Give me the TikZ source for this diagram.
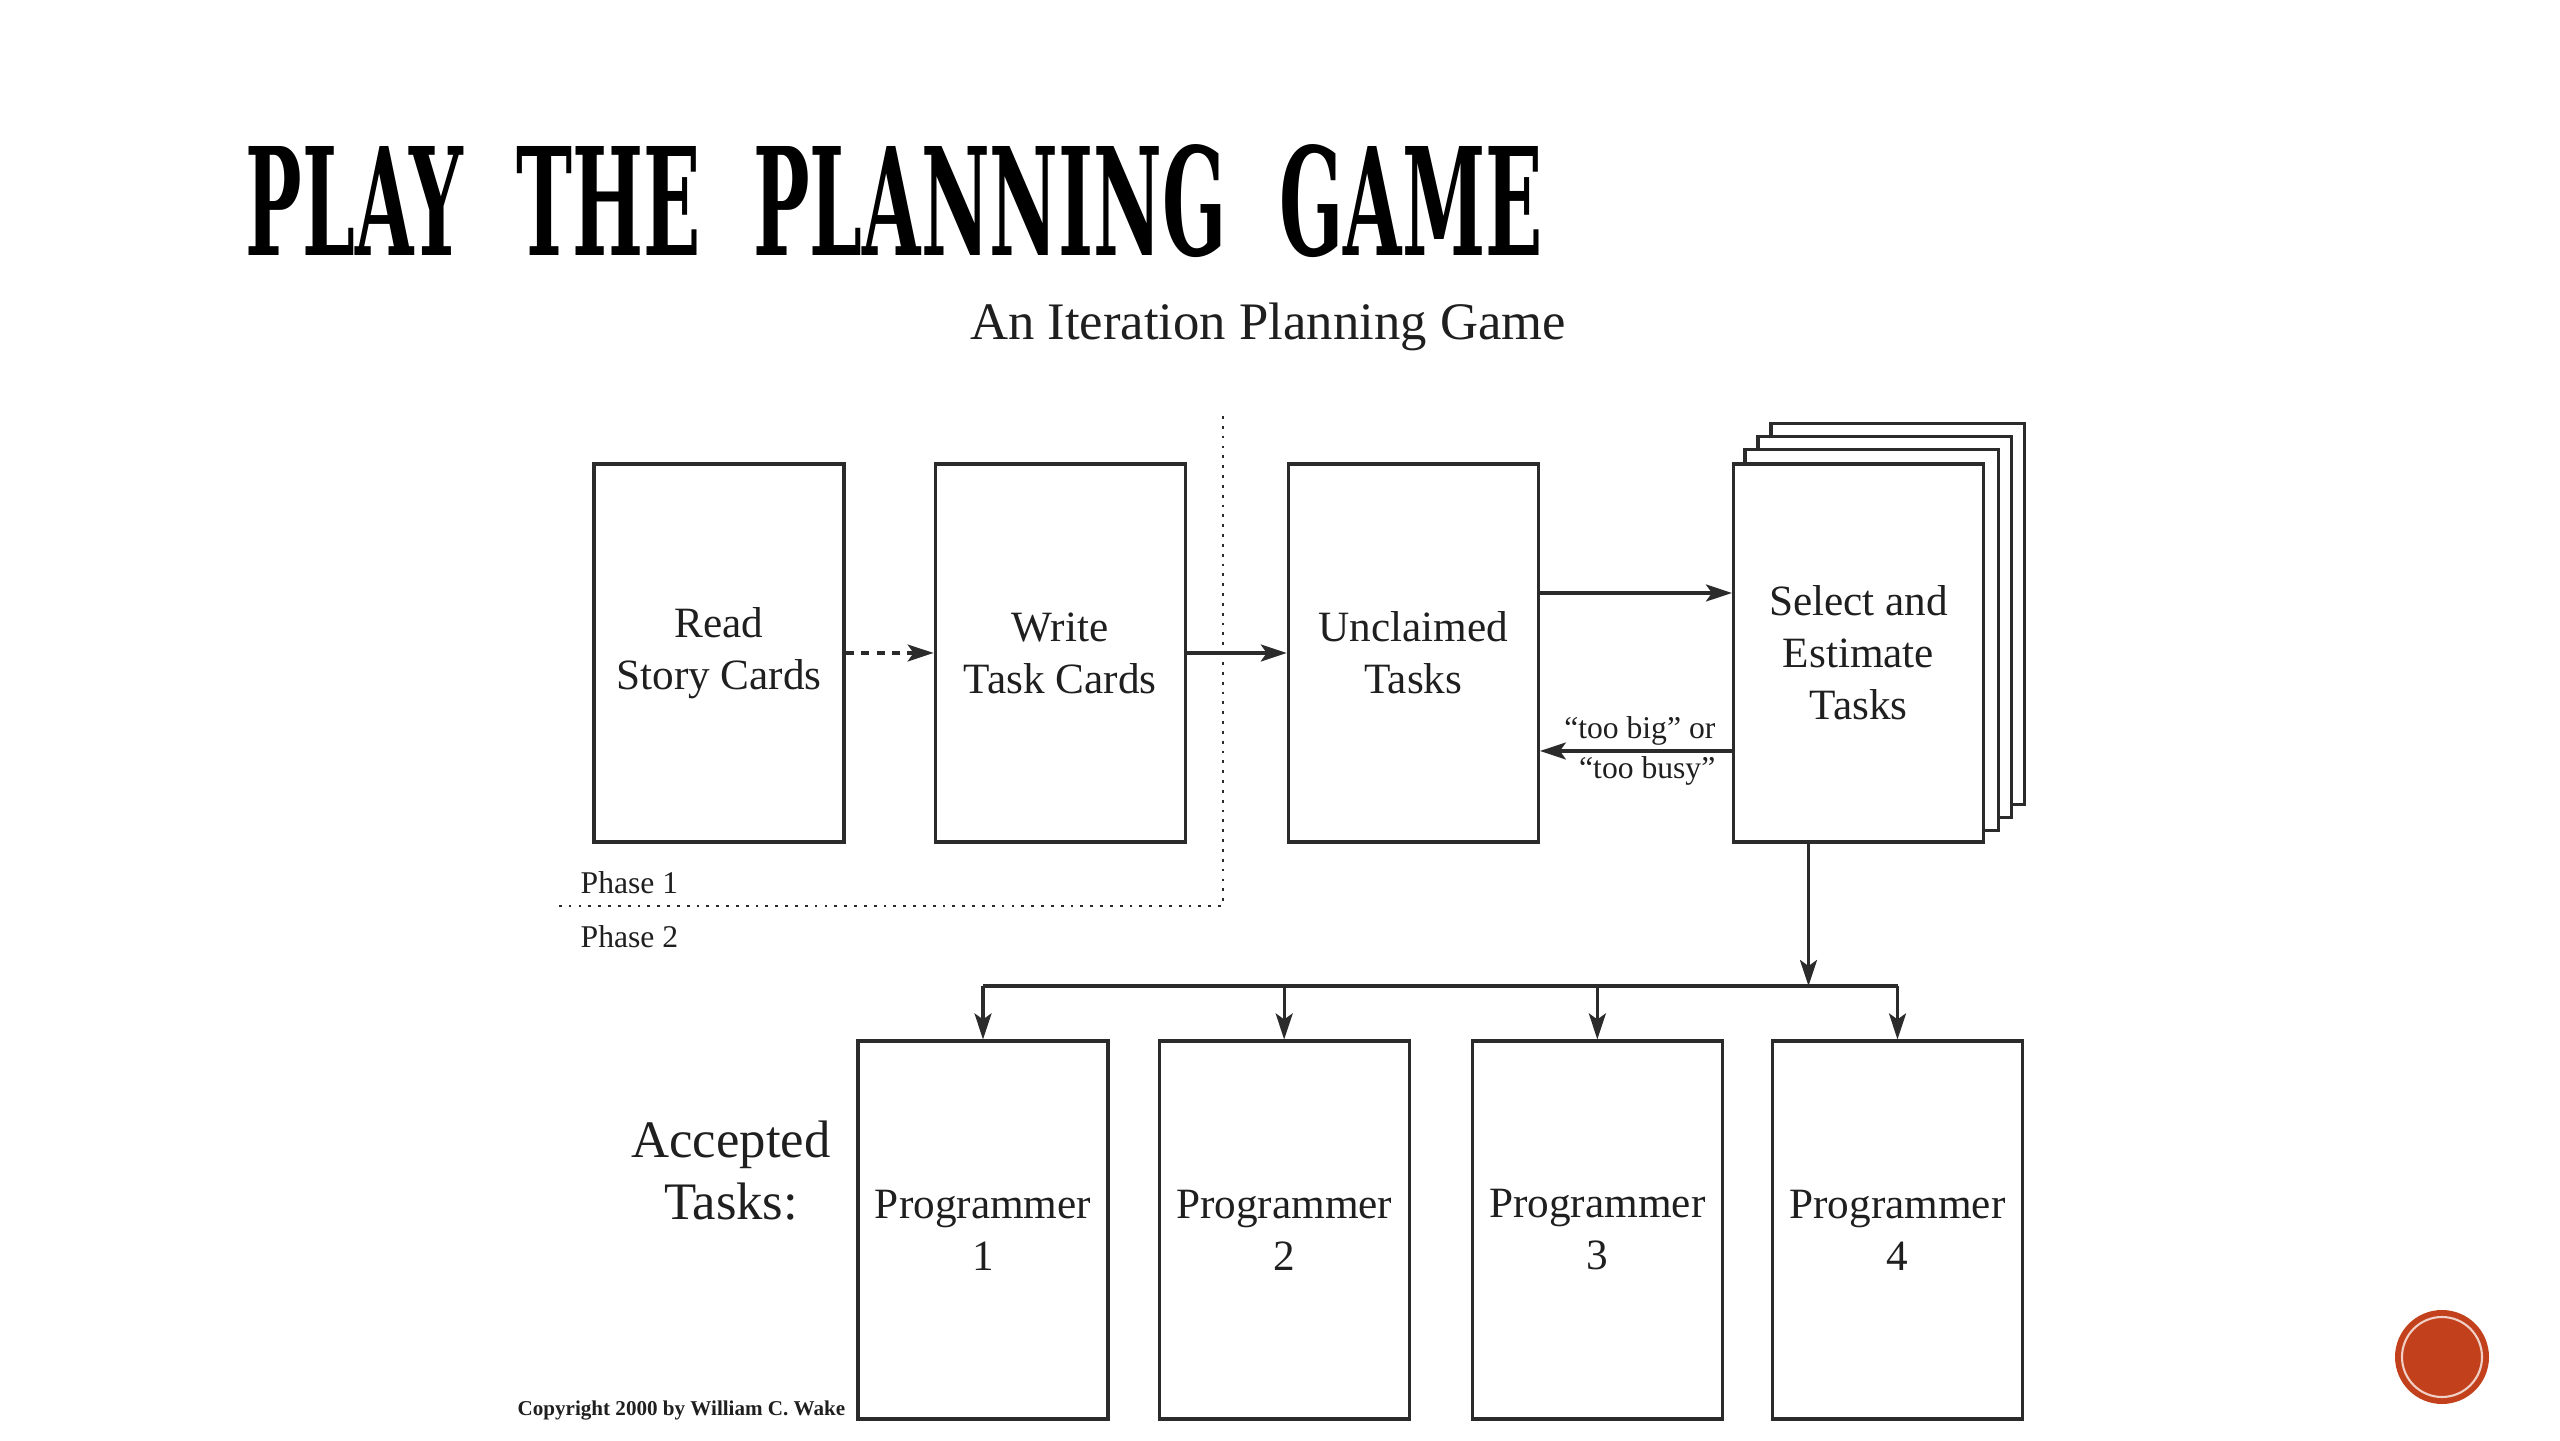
\documentclass[tikz,border=0pt]{standalone}
\usepackage{fontspec}
\setmainfont{Liberation Serif}
\newfontfamily\titlefont{DejaVu Serif}
\usepackage{graphicx}
\usepackage{xcolor}
\usetikzlibrary{positioning}
\usetikzlibrary{arrows.meta}
\usetikzlibrary{backgrounds}
\usetikzlibrary{calc}

\definecolor{linegray}{HTML}{2B2B2B}
\definecolor{badgered}{HTML}{C2411C}

\begin{document}
\begin{tikzpicture}[
card/.style={draw=linegray, line width=0.9pt, fill=white, minimum width=2.5cm, minimum height=3.78cm, inner sep=0pt, align=center, font=\fontsize{12.3}{14.8}\selectfont, text=black!88},
sheet/.style={draw=linegray, line width=0.9pt, fill=white},
flow/.style={draw=linegray, line width=0.9pt, -{Stealth[length=0.26cm,width=0.17cm,inset=0.06cm]}},
phase/.style={draw=linegray, line width=0.8pt, dotted},
label/.style={text=black!88, inner sep=0pt}
]
\useasboundingbox (0,0) rectangle (25.6,14.4);

%title
\node[anchor=south west, inner sep=0pt](title) at (2.45,11.82){\resizebox{12.97cm}{1.11cm}{\titlefont\bfseries PLAY\hspace{0.7em}THE\hspace{0.7em}PLANNING\hspace{0.7em}GAME}};
\node[label, font=\fontsize{15}{18}\selectfont](sub) at (12.68,11.13){An Iteration Planning Game};

%upper row of cards
\node[card](read) at (7.19,7.87){Read\\Story Cards};
\node[card, right=0.88cm of read](write){Write\\Task Cards};
\node[card, right=1.0cm of write](unclaimed){Unclaimed\\Tasks};
\node[card, right=1.92cm of unclaimed](select){Select and\\Estimate\\Tasks};

%stack behind select
\begin{scope}[on background layer]
\foreach \k in {3,2,1}
  \draw[sheet] ($(select.south west)+(0.13*\k,0.13*\k)$) rectangle ($(select.north east)+(0.13*\k,0.13*\k)$);
\end{scope}

%lower row of cards
\node[card](prog1) at (9.83,2.10){Programmer\\1};
\node[card, right=0.48cm of prog1](prog2){Programmer\\2};
\node[card, right=0.60cm of prog2](prog3){Programmer\\3};
\node[card, right=0.47cm of prog3](prog4){Programmer\\4};

\node[label, align=center, font=\fontsize{15}{17.6}\selectfont](accepted) at (7.31,2.69){Accepted\\Tasks:};

%phase border
\coordinate (ptop) at (12.23,10.24);
\coordinate (pcorner) at (12.23,5.34);
\coordinate (pleft) at (5.55,5.34);
\draw[phase] (ptop) -- (pcorner) -- (pleft);
\node[label, anchor=west, font=\fontsize{9}{11}\selectfont](phase1) at (5.80,5.57){Phase 1};
\node[label, anchor=west, font=\fontsize{9}{11}\selectfont](phase2) at (5.80,5.03){Phase 2};

%arrows
\draw[flow, dash pattern=on 2.4pt off 2pt] (read) -- (write);
\draw[flow] (write) -- (unclaimed);
\draw[flow] ([yshift=0.6cm]unclaimed.east) -- ([yshift=0.6cm]select.west);
\draw[flow] ([yshift=-0.98cm]select.west) -- ([yshift=-0.98cm]unclaimed.east)
  node[label, at start, anchor=east, xshift=-0.15cm, align=right, font=\fontsize{9}{11.5}\selectfont]{“too big” or\\“too busy”};

%fan out to programmers
\coordinate (bus) at (0,4.54);
\coordinate (drop) at ([xshift=-0.5cm]select.south);
\draw[flow] (drop) -- (drop |- bus);
\draw[draw=linegray, line width=0.9pt] (prog1.north |- bus) -- (prog4.north |- bus);
\foreach \p in {prog1,prog2,prog3,prog4}
  \draw[flow] (\p.north |- bus) -- (\p.north);

\node[label, anchor=east, font=\fontsize{6}{7}\selectfont\bfseries](copy) at (8.46,0.29){Copyright 2000 by William C. Wake};

%badge
\node[circle, fill=badgered, minimum size=0.94cm, inner sep=0pt](badge) at (24.42,0.83){};
\draw[white!75!badgered, line width=0.6pt] (badge.center) circle (0.4);
\end{tikzpicture}
\end{document}
